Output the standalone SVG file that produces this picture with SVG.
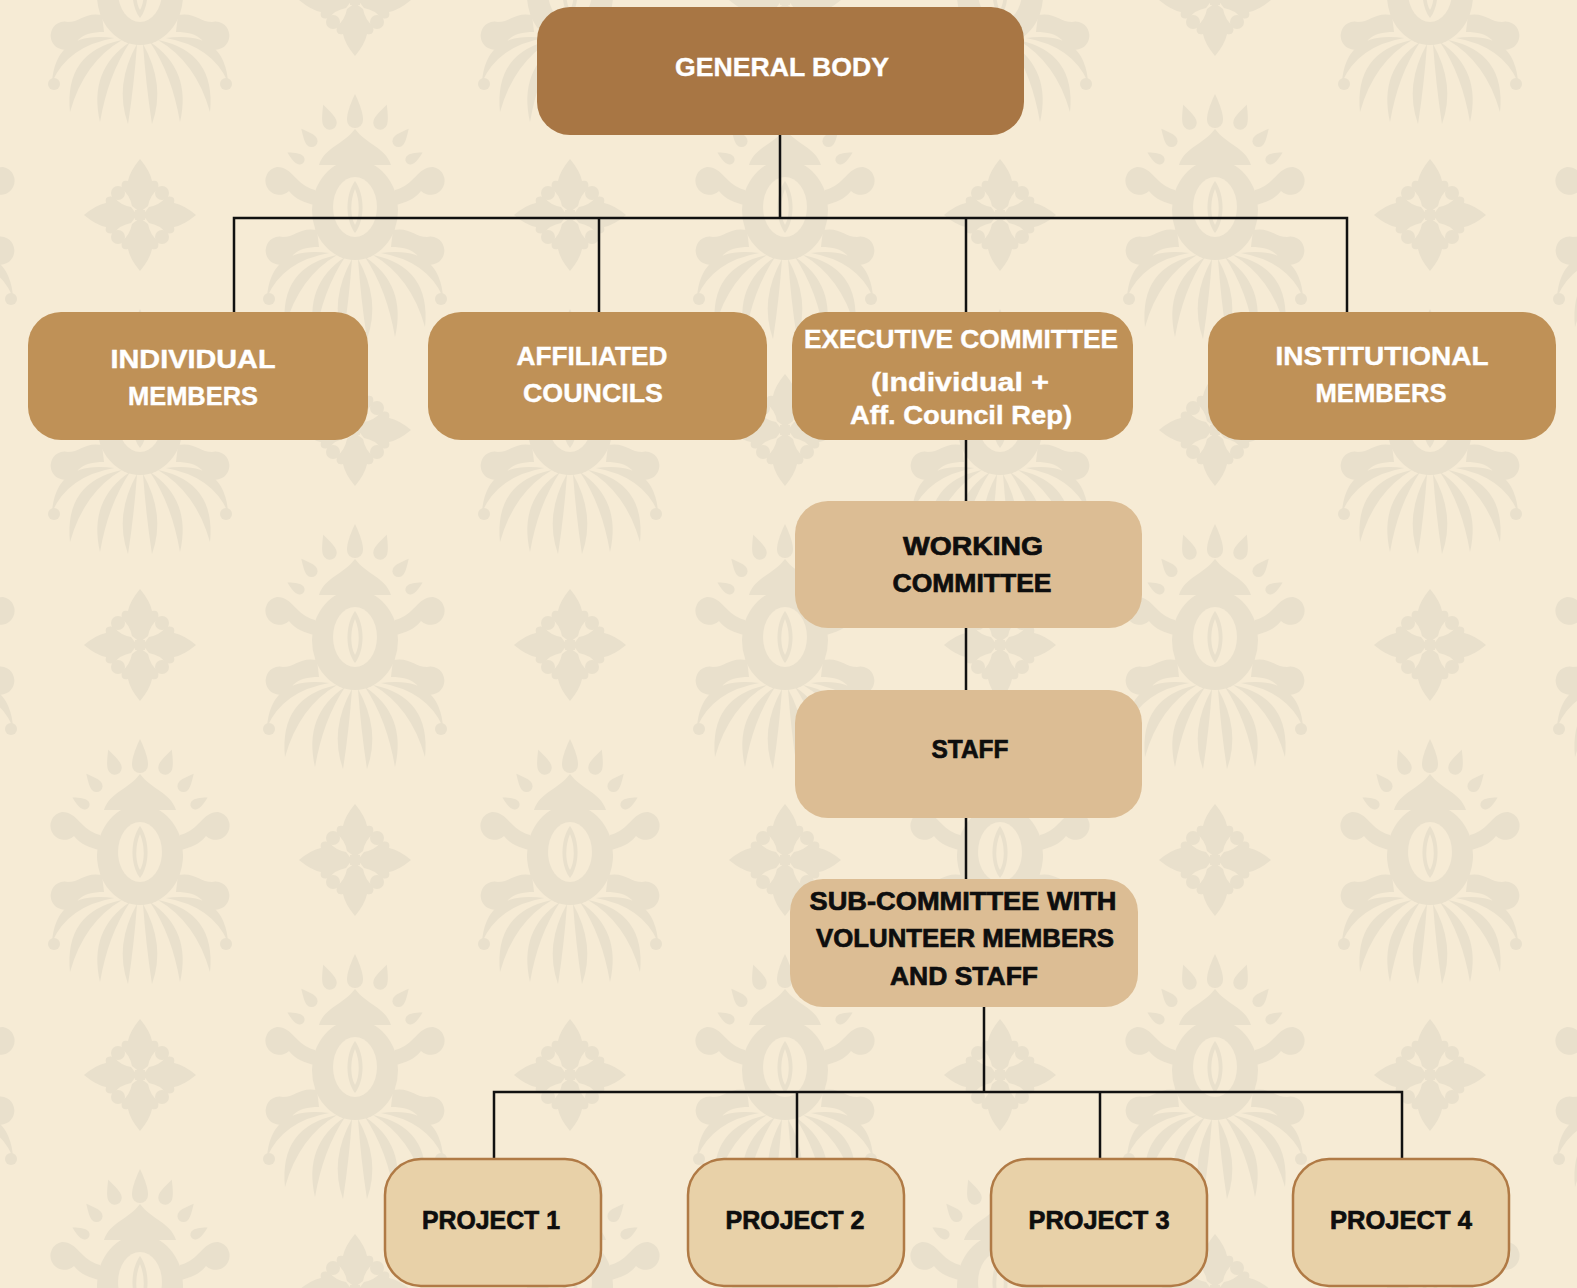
<svg xmlns="http://www.w3.org/2000/svg" xmlns:xlink="http://www.w3.org/1999/xlink" width="1577" height="1288" viewBox="0 0 1577 1288">
<style>
.bg{fill:#F6EBD5}
.orn{fill:#E9E0CC}
.orn-hole{fill:#F6EBD5}
.top{fill:#A87644}
.mid{fill:#BF9157}
.low{fill:#DCBD94}
.proj{fill:#E8D1A8;stroke:#B07A45;stroke-width:2.5}
.wt{font-family:"Liberation Sans",Arial,sans-serif;font-weight:bold;font-size:26px;fill:#FFFFFF;stroke:#FFFFFF;stroke-width:0.4;text-anchor:middle}
.bt{font-family:"Liberation Sans",Arial,sans-serif;font-weight:bold;font-size:26px;fill:#0E0E0E;stroke:#0E0E0E;stroke-width:0.7;text-anchor:middle}
.conn{stroke:#111111;stroke-width:2.5;fill:none;stroke-linecap:square}
</style>
<defs>
<g id="damask">
  <path class="orn" d="M0,-121 C6,-108 8,-101 8,-95 A8,8 0 0 1 -8,-95 C-8,-101 -6,-108 0,-121Z"/>
  <g transform="translate(-27,-97) rotate(-20)"><path class="orn" d="M0,-14 C5,-4 7,1 7,5 A7,7 0 0 1 -7,5 C-7,1 -5,-4 0,-14Z"/></g>
  <g transform="translate(27,-97) rotate(20)"><path class="orn" d="M0,-14 C5,-4 7,1 7,5 A7,7 0 0 1 -7,5 C-7,1 -5,-4 0,-14Z"/></g>
  <g transform="translate(-46,-77) rotate(-40)"><path class="orn" d="M0,-12 C4,-4 6,0 6,4 A6,6 0 0 1 -6,4 C-6,0 -4,-4 0,-12Z"/></g>
  <g transform="translate(46,-77) rotate(40)"><path class="orn" d="M0,-12 C4,-4 6,0 6,4 A6,6 0 0 1 -6,4 C-6,0 -4,-4 0,-12Z"/></g>
  <g transform="translate(-58,-57) rotate(-60)"><path class="orn" d="M0,-11 C4,-4 5,0 5,3 A5,5 0 0 1 -5,3 C-5,0 -4,-4 0,-11Z"/></g>
  <g transform="translate(58,-57) rotate(60)"><path class="orn" d="M0,-11 C4,-4 5,0 5,3 A5,5 0 0 1 -5,3 C-5,0 -4,-4 0,-11Z"/></g>
  <path class="orn" d="M-36,-50 C-30,-68 -12,-70 0,-86 C12,-70 30,-68 36,-50Z"/>
  <ellipse class="orn" cx="0" cy="-5" rx="43" ry="50"/>
  <ellipse class="orn-hole" cx="0" cy="-8" rx="22" ry="30"/>
  <path class="orn" d="M0,-34 C10,-20 10,5 0,18 C-10,5 -10,-20 0,-34Z"/>
  <path class="orn-hole" d="M0,-26 C5,-15 5,2 0,10 C-5,2 -5,-15 0,-26Z"/>
  <path class="orn" d="M-40,-25 C-60,-30 -62,-48 -78,-48 A14,14 0 1 0 -66,-24 C-60,-16 -50,-12 -40,-10Z"/>
  <path class="orn" d="M40,-25 C60,-30 62,-48 78,-48 A14,14 0 1 1 66,-24 C60,-16 50,-12 40,-10Z"/>
  <path class="orn" d="M-38,15 C-55,12 -60,22 -72,22 A14,14 0 1 0 -62,40 C-56,34 -48,32 -36,32Z"/>
  <path class="orn" d="M38,15 C55,12 60,22 72,22 A14,14 0 1 1 62,40 C56,34 48,32 36,32Z"/>
  <path class="orn" d="M-3,44 Q-26,85 -12,124 Q-6,85 -3,44Z"/>
  <path class="orn" d="M3,44 Q26,85 12,124 Q6,85 3,44Z"/>
  <path class="orn" d="M-10,42 Q-52,70 -40,122 Q-32,75 -10,42Z"/>
  <path class="orn" d="M10,42 Q52,70 40,122 Q32,75 10,42Z"/>
  <path class="orn" d="M-18,40 Q-76,52 -70,112 Q-56,62 -18,40Z"/>
  <path class="orn" d="M18,40 Q76,52 70,112 Q56,62 18,40Z"/>
  <path class="orn" d="M-26,38 Q-84,30 -88,82 Q-72,46 -26,38Z"/>
  <path class="orn" d="M26,38 Q84,30 88,82 Q72,46 26,38Z"/>
  <circle class="orn" cx="-86" cy="84" r="6"/>
  <circle class="orn" cx="86" cy="84" r="6"/>
</g>
<g id="cross">
  <path id="petal" class="orn" d="M0,-56 Q10,-44 12,-34 Q20,-36 18,-26 Q10,-20 8,-9 L0,-3 L-8,-9 Q-10,-20 -18,-26 Q-20,-36 -12,-34 Q-10,-44 0,-56Z"/>
  <use xlink:href="#petal" transform="rotate(90)"/>
  <use xlink:href="#petal" transform="rotate(180)"/>
  <use xlink:href="#petal" transform="rotate(270)"/>
  <circle class="orn" cx="-22" cy="-22" r="7"/>
  <circle class="orn" cx="22" cy="-22" r="7"/>
  <circle class="orn" cx="-22" cy="22" r="7"/>
  <circle class="orn" cx="22" cy="22" r="7"/>
  <rect class="orn" x="-5" y="-5" width="10" height="10"/>
</g>
<pattern id="wall" patternUnits="userSpaceOnUse" x="140" y="0" width="430" height="430">
  <rect class="bg" x="0" y="0" width="430" height="430"/>
  <use xlink:href="#damask" transform="translate(0,0)"/>
  <use xlink:href="#damask" transform="translate(430,0)"/>
  <use xlink:href="#damask" transform="translate(0,430)"/>
  <use xlink:href="#damask" transform="translate(430,430)"/>
  <use xlink:href="#damask" transform="translate(215,215)"/>
  <use xlink:href="#cross" transform="translate(215,0)"/>
  <use xlink:href="#cross" transform="translate(215,430)"/>
  <use xlink:href="#cross" transform="translate(0,215)"/>
  <use xlink:href="#cross" transform="translate(430,215)"/>
</pattern>
</defs>

<rect x="0" y="0" width="1577" height="1288" fill="url(#wall)"/>

<g id="connectors">
  <path class="conn" d="M780,135 V218 M234,218 H1347 M234,218 V312 M599,218 V312 M966,218 V312 M1347,218 V312"/>
  <path class="conn" d="M966,440 V501 M966,628 V690 M966,818 V879"/>
  <path class="conn" d="M984,1007 V1092 M494,1092 H1402 M494,1092 V1159 M797,1092 V1159 M1100,1092 V1159 M1402,1092 V1159"/>
</g>

<g id="general-body">
  <rect class="top" x="537" y="7" width="487" height="128" rx="33"/>
  <text class="wt" x="782" y="76" textLength="214" lengthAdjust="spacingAndGlyphs">GENERAL BODY</text>
</g>

<g id="individual-members">
  <rect class="mid" x="28" y="312" width="340" height="128" rx="33"/>
  <text class="wt" x="193" y="368" textLength="165" lengthAdjust="spacingAndGlyphs">INDIVIDUAL</text>
  <text class="wt" x="193" y="405" textLength="130" lengthAdjust="spacingAndGlyphs">MEMBERS</text>
</g>

<g id="affiliated-councils">
  <rect class="mid" x="428" y="312" width="339" height="128" rx="33"/>
  <text class="wt" x="592" y="365" textLength="151" lengthAdjust="spacingAndGlyphs">AFFILIATED</text>
  <text class="wt" x="593" y="402" textLength="140" lengthAdjust="spacingAndGlyphs">COUNCILS</text>
</g>

<g id="executive-committee">
  <rect class="mid" x="792" y="312" width="341" height="128" rx="33"/>
  <text class="wt" x="961" y="348" textLength="314" lengthAdjust="spacingAndGlyphs">EXECUTIVE COMMITTEE</text>
  <text class="wt" x="960" y="391" textLength="178" lengthAdjust="spacingAndGlyphs">(Individual +</text>
  <text class="wt" x="961" y="424" textLength="222" lengthAdjust="spacingAndGlyphs">Aff. Council Rep)</text>
</g>

<g id="institutional-members">
  <rect class="mid" x="1208" y="312" width="348" height="128" rx="33"/>
  <text class="wt" x="1382" y="365" textLength="213" lengthAdjust="spacingAndGlyphs">INSTITUTIONAL</text>
  <text class="wt" x="1381" y="402" textLength="131" lengthAdjust="spacingAndGlyphs">MEMBERS</text>
</g>

<g id="working-committee">
  <rect class="low" x="795" y="501" width="347" height="127" rx="33"/>
  <text class="bt" x="973" y="555" textLength="140" lengthAdjust="spacingAndGlyphs">WORKING</text>
  <text class="bt" x="972" y="592" textLength="159" lengthAdjust="spacingAndGlyphs">COMMITTEE</text>
</g>

<g id="staff">
  <rect class="low" x="795" y="690" width="347" height="128" rx="33"/>
  <text class="bt" x="970" y="758" textLength="77" lengthAdjust="spacingAndGlyphs">STAFF</text>
</g>

<g id="sub-committee">
  <rect class="low" x="790" y="879" width="348" height="128" rx="33"/>
  <text class="bt" x="963" y="910" textLength="307" lengthAdjust="spacingAndGlyphs">SUB-COMMITTEE WITH</text>
  <text class="bt" x="965" y="947" textLength="298" lengthAdjust="spacingAndGlyphs">VOLUNTEER MEMBERS</text>
  <text class="bt" x="964" y="985" textLength="148" lengthAdjust="spacingAndGlyphs">AND STAFF</text>
</g>

<g id="project-1">
  <rect class="proj" x="385" y="1159" width="216" height="127" rx="36"/>
  <text class="bt" x="491" y="1229" textLength="138" lengthAdjust="spacingAndGlyphs">PROJECT 1</text>
</g>
<g id="project-2">
  <rect class="proj" x="688" y="1159" width="216" height="127" rx="36"/>
  <text class="bt" x="795" y="1229" textLength="139" lengthAdjust="spacingAndGlyphs">PROJECT 2</text>
</g>
<g id="project-3">
  <rect class="proj" x="991" y="1159" width="216" height="127" rx="36"/>
  <text class="bt" x="1099" y="1229" textLength="141" lengthAdjust="spacingAndGlyphs">PROJECT 3</text>
</g>
<g id="project-4">
  <rect class="proj" x="1293" y="1159" width="216" height="127" rx="36"/>
  <text class="bt" x="1401" y="1229" textLength="142" lengthAdjust="spacingAndGlyphs">PROJECT 4</text>
</g>
</svg>
